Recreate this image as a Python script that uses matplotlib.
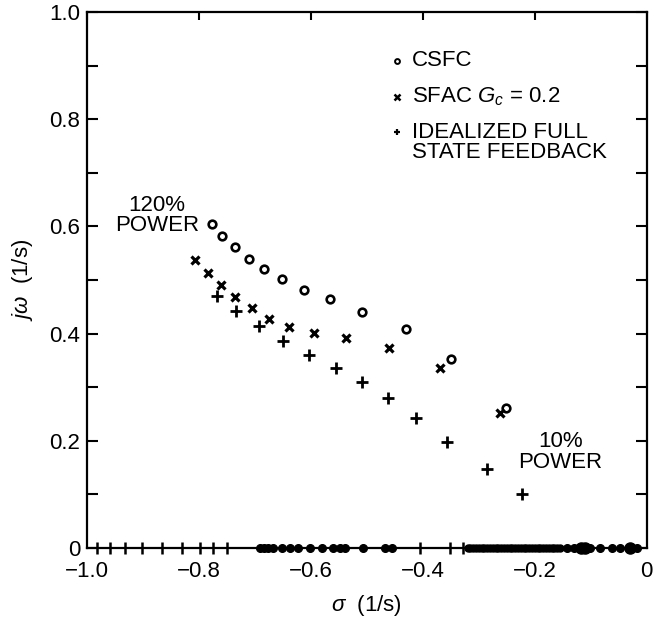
import matplotlib
matplotlib.use("Agg")
import matplotlib.pyplot as plt
from matplotlib.ticker import MultipleLocator

plt.rcParams["font.family"] = ["Liberation Sans", "DejaVu Sans"]
plt.rcParams["mathtext.fontset"] = "custom"
plt.rcParams["mathtext.rm"] = "Liberation Sans"
plt.rcParams["mathtext.it"] = "Liberation Sans:italic"

# closed-loop roots, power swept from 120% (upper left) down to 10%
csfc_sigma = [-0.776, -0.758, -0.736, -0.711, -0.684, -0.651, -0.612, -0.566,
              -0.508, -0.430, -0.349, -0.252]
csfc_omega = [0.604, 0.582, 0.561, 0.540, 0.520, 0.501, 0.482, 0.464,
              0.441, 0.408, 0.353, 0.262]

sfac_sigma = [-0.807, -0.783, -0.760, -0.735, -0.705, -0.675, -0.639, -0.594,
              -0.538, -0.460, -0.369, -0.263]
sfac_omega = [0.537, 0.513, 0.490, 0.468, 0.447, 0.427, 0.412, 0.401,
              0.392, 0.373, 0.335, 0.251]

ideal_sigma = [-0.767, -0.734, -0.693, -0.650, -0.604, -0.555, -0.508, -0.462,
               -0.412, -0.357, -0.285, -0.223]
ideal_omega = [0.471, 0.442, 0.415, 0.386, 0.361, 0.335, 0.309, 0.279,
               0.242, 0.197, 0.147, 0.101]

# real-axis roots
real_plus = [-0.982, -0.959, -0.932, -0.902, -0.866, -0.830, -0.798, -0.775,
             -0.750, -0.405, -0.352, -0.329]
real_dots = [-0.691, -0.684, -0.676, -0.668, -0.652, -0.638, -0.623, -0.602,
             -0.580, -0.561, -0.548, -0.539, -0.507, -0.468, -0.455,
             -0.143, -0.130, -0.102, -0.084, -0.062, -0.048, -0.018]
real_band = [-0.320, -0.315, -0.310, -0.305, -0.300, -0.295, -0.290, -0.285,
             -0.280, -0.275, -0.270, -0.265, -0.260, -0.255, -0.250, -0.245,
             -0.240, -0.235, -0.230, -0.225, -0.220, -0.215, -0.210, -0.205,
             -0.200, -0.195, -0.190, -0.185, -0.180, -0.175, -0.170, -0.165,
             -0.160, -0.155]
real_big = [-0.118, -0.110, -0.030]

x_ticks = [-1.0, -0.8, -0.6, -0.4, -0.2, 0.0]
x_labels = ["\u22121.0", "\u22120.8", "\u22120.6", "\u22120.4", "\u22120.2", "0"]
y_ticks = [0.0, 0.2, 0.4, 0.6, 0.8, 1.0]
y_labels = ["0", "0.2", "0.4", "0.6", "0.8", "1.0"]

fig = plt.figure(figsize=(6.54, 6.17), dpi=100)
ax = fig.add_axes([0.133, 0.1118, 0.856, 0.8688])

ax.plot(csfc_sigma, csfc_omega, "o", ls="none", ms=5.5, mfc="white",
        mec="black", mew=1.9)
ax.plot(sfac_sigma, sfac_omega, "x", ls="none", ms=6, mec="black", mew=2.3)
ax.plot(ideal_sigma, ideal_omega, "+", ls="none", ms=8, mec="black", mew=2.0)

ax.plot(real_dots, [0] * len(real_dots), "o", ls="none", ms=5.5,
        color="black", clip_on=False, zorder=5)
ax.plot(real_band, [0] * len(real_band), "o", ls="none", ms=5,
        color="black", clip_on=False, zorder=5)
ax.plot(real_big, [0] * len(real_big), "o", ls="none", ms=8,
        color="black", clip_on=False, zorder=5)
ax.plot(real_plus, [0] * len(real_plus), "|", ls="none", ms=8, mew=1.8,
        color="black", clip_on=False, zorder=5)

ax.set_xlim(-1.0, 0.0)
ax.set_ylim(0.0, 1.0)
ax.set_xticks(x_ticks)
ax.set_xticklabels(x_labels)
ax.set_yticks(y_ticks)
ax.set_yticklabels(y_labels)
ax.yaxis.set_minor_locator(MultipleLocator(0.1))

for s in ax.spines.values():
    s.set_linewidth(1.6)

ax.tick_params(axis="x", which="major", bottom=False, top=True,
               labelbottom=True, direction="in", length=6, width=1.5,
               labelsize=16, pad=9)
ax.tick_params(axis="y", which="both", left=True, right=True,
               direction="in", length=8, width=1.5, labelsize=16, pad=5)

ax.set_xlabel(r"$\sigma$  (1/s)", fontsize=16, labelpad=8)
ax.set_ylabel(r"$j\omega$  (1/s)", fontsize=16, labelpad=10)

ax.text(-0.875, 0.62, "120%\nPOWER", fontsize=16, ha="center", va="center",
        linespacing=0.95)
ax.text(-0.154, 0.179, "10%\nPOWER", fontsize=16, ha="center", va="center",
        linespacing=0.95)

# key
tr = ax.transAxes
ax.plot(0.553, 0.909, "o", ms=3.5, mfc="white", mec="black", mew=1.4,
        transform=tr)
ax.plot(0.553, 0.842, "x", ms=5, mec="black", mew=1.8, transform=tr)
ax.plot(0.553, 0.777, "+", ms=5, mec="black", mew=1.6, transform=tr)
ax.text(0.580, 0.909, "CSFC", fontsize=16, va="center", transform=tr)
ax.text(0.580, 0.842, "SFAC $G_c$ = 0.2", fontsize=16, va="center",
        transform=tr)
ax.text(0.580, 0.757, "IDEALIZED FULL\nSTATE FEEDBACK", fontsize=16,
        va="center", linespacing=0.95, transform=tr)

fig.savefig("out.png", dpi=100)
